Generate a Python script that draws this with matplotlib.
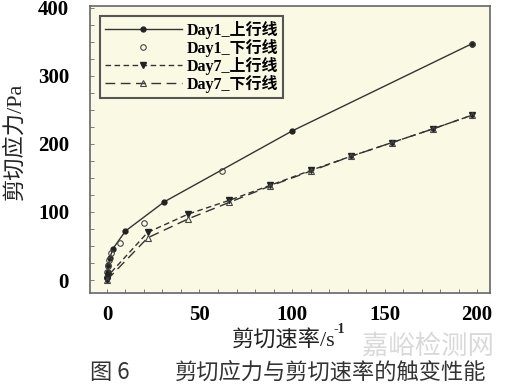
import matplotlib
matplotlib.use('Agg')
import matplotlib.pyplot as plt
from matplotlib.ticker import MultipleLocator

plt.rcParams['font.family'] = ['Liberation Serif', 'Noto Sans CJK SC']

# Day1 up-curve (solid, filled circles)
d1_up_x = [0, 0.3, 0.8, 1.5, 3.2, 10, 31, 100, 197]
d1_up_y = [3, 12, 22, 32, 46, 72, 115, 219, 347]
# Day1 down-curve (open circles, no line)
d1_dn_x = [0, 0.2, 0.5, 1.0, 2.0, 7, 20, 62, 197]
d1_dn_y = [5, 12, 20, 30, 40, 54, 84, 160, 347]
# Day7 up-curve (short dash, filled triangles)
d7_up_x = [0, 0.5, 22, 44, 66, 88, 110, 132, 154, 176, 197]
d7_up_y = [0, 6, 70, 97, 117, 139, 161, 182, 202, 222, 242]
# Day7 down-curve (long dash, open triangles)
d7_dn_x = [0, 22, 44, 66, 88, 110, 132, 154, 176, 197]
d7_dn_y = [0, 62, 90, 114, 138, 160, 182, 202, 222, 242]

xticks = [0, 50, 100, 150, 200]
yticks = [0, 100, 200, 300, 400]

fig = plt.figure(figsize=(5.11, 3.88), dpi=100)
ax = fig.add_axes([0.176, 0.245, 0.783, 0.740])
ax.set_facecolor('#fafae4')

ax.plot(d1_up_x, d1_up_y, '-', color='#333333', lw=1.0, marker='o', ms=3.5,
        mfc='#222222', mec='#222222', label='Day1_上行线')
ax.plot(d1_dn_x, d1_dn_y, 'none', marker='o', ms=4, mfc='none', mec='#444444',
        mew=0.8, label='Day1_下行线')
ax.plot(d7_up_x, d7_up_y, color='#333333', lw=1.0, ls=(0, (4, 2.5)), marker='v',
        ms=4, mfc='#222222', mec='#222222', label='Day7_上行线')
ax.plot(d7_dn_x, d7_dn_y, color='#333333', lw=1.0, ls=(0, (7, 4)), marker='^',
        ms=4, mfc='none', mec='#444444', mew=0.8, label='Day7_下行线')

ax.set_xlim(-9.2, 207)
ax.set_ylim(-19, 403)
ax.set_xticks(xticks)
ax.set_yticks(yticks)
ax.xaxis.set_minor_locator(MultipleLocator(10))
ax.yaxis.set_minor_locator(MultipleLocator(25))
ax.tick_params(which='both', direction='in', color='#666666', length=3, width=0.6)
ax.tick_params(which='major', labelsize=15)
ax.tick_params(axis='x', which='major', pad=9)
ax.tick_params(axis='y', which='major', pad=15)
for lab in ax.get_xticklabels() + ax.get_yticklabels():
    lab.set_fontweight('bold')
for sp in ax.spines.values():
    sp.set_color('#666666')
    sp.set_linewidth(1.2)

leg = ax.legend(loc='upper left', bbox_to_anchor=(0.018, 0.975),
                prop={'weight': 'bold', 'size': 11.5}, frameon=True, fancybox=False,
                borderpad=0.3, labelspacing=0.0, handlelength=4.8, handletextpad=0.3,
                borderaxespad=0.2)
leg.get_frame().set_edgecolor('#555555')
leg.get_frame().set_linewidth(1.5)
leg.get_frame().set_facecolor('#fafae4')
leg.get_frame().set_alpha(1)

fig.text(0.030, 0.637, '剪切应力/Pa', rotation=90, ha='center', va='center',
         fontsize=16, color='#222222')
fig.text(0.555, 0.122, '剪切速率/s', ha='center', va='center',
         fontsize=16, color='#222222')
fig.text(0.652, 0.150, '-1', ha='left', va='center', fontsize=10,
         color='#222222', fontweight='bold')
fig.text(0.176, 0.040, '图 6', ha='left', va='center', fontsize=16,
         color='#333333', family=['Noto Sans CJK SC'], fontweight='medium')
fig.text(0.342, 0.040, '剪切应力与剪切速率的触变性能', ha='left', va='center',
         fontsize=16, color='#333333', family=['Noto Sans CJK SC'], fontweight='medium')
fig.text(0.838, 0.108, '嘉峪检测网', ha='center', va='center', fontsize=19,
         color='#d9d9d9', family=['Noto Sans CJK SC'])

fig.savefig('out.png', dpi=100)
